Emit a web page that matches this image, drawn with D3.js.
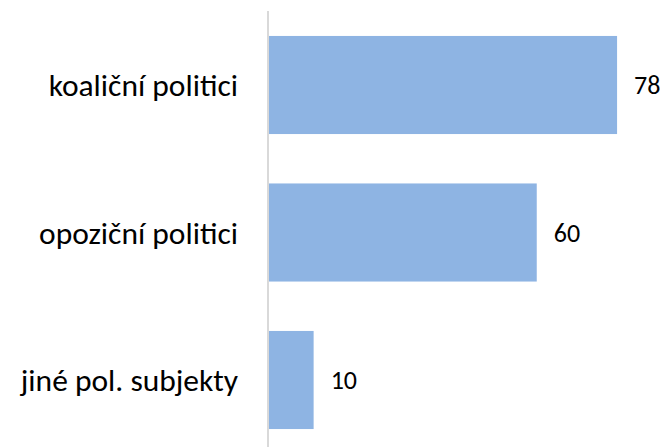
<!DOCTYPE html>
<html><head><meta charset="utf-8">
<script src="https://cdn.jsdelivr.net/npm/d3@7"></script>
<style>html,body{margin:0;padding:0;background:#fff;}svg{display:block;}</style>
</head><body>
<svg id="chart" width="663" height="447"></svg>
<script>
const categories = ["koaliční politici", "opoziční politici", "jiné pol. subjekty"];
const values = [78, 60, 10];

const svg = d3.select("#chart");
const font = "Carlito, Lato, 'Liberation Sans', sans-serif";

const x = d3.scaleLinear().domain([0, 80]).range([269, 626]);
const y = d3.scaleBand().domain(categories).range([11.25, 453.75]).paddingInner(0.335).paddingOuter(0.1675);

svg.append("g").selectAll("rect").data(categories).join("rect")
  .attr("x", x(0))
  .attr("y", d => y(d))
  .attr("width", (d, i) => x(values[i]) - x(0))
  .attr("height", y.bandwidth())
  .attr("fill", "#8eb4e3");

svg.append("line")
  .attr("x1", 268).attr("x2", 268)
  .attr("y1", 11).attr("y2", 447)
  .attr("stroke", "#d9d9d9").attr("stroke-width", 2);

svg.append("g").selectAll("text").data(categories).join("text")
  .attr("x", 238)
  .attr("y", d => y(d) + y.bandwidth() / 2)
  .attr("dy", "0.35em")
  .attr("text-anchor", "end")
  .style("font-family", font)
  .style("font-size", "31.5px")
  .attr("fill", "#000")
  .text(d => d);

svg.append("g").selectAll("text").data(categories).join("text")
  .attr("x", (d, i) => x(values[i]) + 17)
  .attr("y", d => y(d) + y.bandwidth() / 2)
  .attr("dy", "0.35em")
  .style("font-family", font)
  .style("font-size", "26px")
  .attr("fill", "#000")
  .text((d, i) => values[i]);
</script>
</body></html>
